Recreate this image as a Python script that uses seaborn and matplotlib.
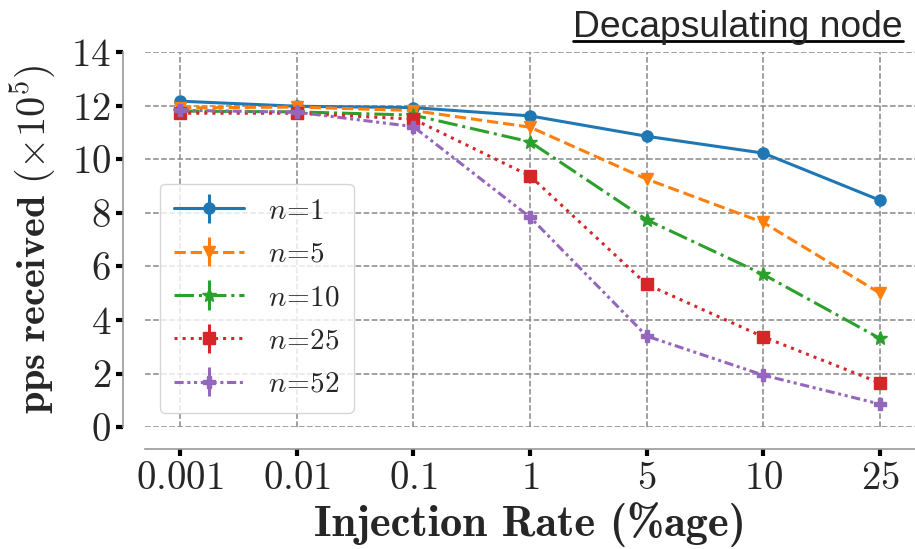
import matplotlib
matplotlib.use("Agg")
import matplotlib.pyplot as plt
import seaborn as sns
from matplotlib.lines import Line2D
from matplotlib.ticker import FuncFormatter

# Datos
tasas = ["0.001", "0.01", "0.1", "1", "5", "10", "25"]
pps_n1 = [12.17, 11.98, 11.93, 11.62, 10.86, 10.23, 8.47]
pps_n5 = [11.92, 11.95, 11.82, 11.20, 9.26, 7.64, 5.00]
pps_n10 = [11.80, 11.77, 11.65, 10.65, 7.74, 5.70, 3.31]
pps_n25 = [11.72, 11.72, 11.50, 9.38, 5.33, 3.37, 1.65]
pps_n52 = [11.83, 11.76, 11.22, 7.84, 3.40, 1.94, 0.86]
err_n1 = [0.04, 0.03, 0.03, 0.04, 0.05, 0.05, 0.06]
err_n5 = [0.04, 0.03, 0.04, 0.05, 0.06, 0.06, 0.07]
err_n10 = [0.04, 0.04, 0.04, 0.05, 0.06, 0.07, 0.07]
err_n25 = [0.04, 0.04, 0.05, 0.06, 0.07, 0.07, 0.06]
err_n52 = [0.04, 0.04, 0.05, 0.07, 0.07, 0.06, 0.05]
etiquetas = [r"$n\!=\!1$", r"$n\!=\!5$", r"$n\!=\!10$", r"$n\!=\!25$", r"$n\!=\!52$"]

series = [pps_n1, pps_n5, pps_n10, pps_n25, pps_n52]
errores = [err_n1, err_n5, err_n10, err_n25, err_n52]
marcadores = ["o", "v", "*", "s", "P"]
estilos = ["-", "--", "-.", ":", (0, (3, 1.2, 1, 1.2, 1, 1.2))]
colores = sns.color_palette("tab10", 5)

sns.set_theme(style="ticks")
plt.rcParams["font.family"] = "serif"
plt.rcParams["font.serif"] = ["cmr10"]
plt.rcParams["mathtext.fontset"] = "cm"
plt.rcParams["axes.formatter.use_mathtext"] = True

fig = plt.figure(figsize=(9.15, 5.49), dpi=100)
ax = fig.add_axes([0.1585, 0.222, 0.8415, 0.683])

for vals, err, lab, m, ls, c in zip(series, errores, etiquetas, marcadores, estilos, colores):
    ax.errorbar(tasas, vals, yerr=err, label=lab, marker=m, linestyle=ls, color=c,
                linewidth=2.2, markersize=8 if m != "*" else 10, elinewidth=2.2,
                clip_on=False, zorder=3)

ax.set_xlim(-0.3, 6.3)
ax.set_ylim(0, 14)
ax.set_yticks([0, 2, 4, 6, 8, 10, 12, 14])
ax.yaxis.set_major_formatter(FuncFormatter(lambda v, p: f"${v:g}$"))
ax.set_xticks(range(len(tasas)))
ax.set_xticklabels([f"${t}$" for t in tasas])
ax.grid(True, linestyle="--", color="#888888", linewidth=1.1)
ax.tick_params(axis="both", labelsize=28, length=5, width=3, color="black")

sns.despine(ax=ax, offset=16)
for lado in ["left", "bottom"]:
    ax.spines[lado].set_color("#999999")
    ax.spines[lado].set_linewidth(1.2)

ax.set_ylabel(r"$\mathbf{pps\ received}\ (\times 10^5)$", fontsize=29, labelpad=10)
ax.set_xlabel("Injection Rate (%age)", fontsize=32, family="cmb10", labelpad=4)

ax.legend(loc="lower left", fontsize=21, handlelength=2.4, handletextpad=0.8,
          labelspacing=0.58, borderpad=0.5, framealpha=0.8)

titulo = fig.text(0.987, 0.933, "Decapsulating node", ha="right", va="baseline",
                  fontsize=26.8, family="Liberation Sans")
fig.canvas.draw()
bb = titulo.get_window_extent().transformed(fig.transFigure.inverted())
fig.add_artist(Line2D([bb.x0, bb.x1], [0.926, 0.926], color="black", linewidth=2,
                      transform=fig.transFigure))

fig.savefig("out.png", dpi=100)
